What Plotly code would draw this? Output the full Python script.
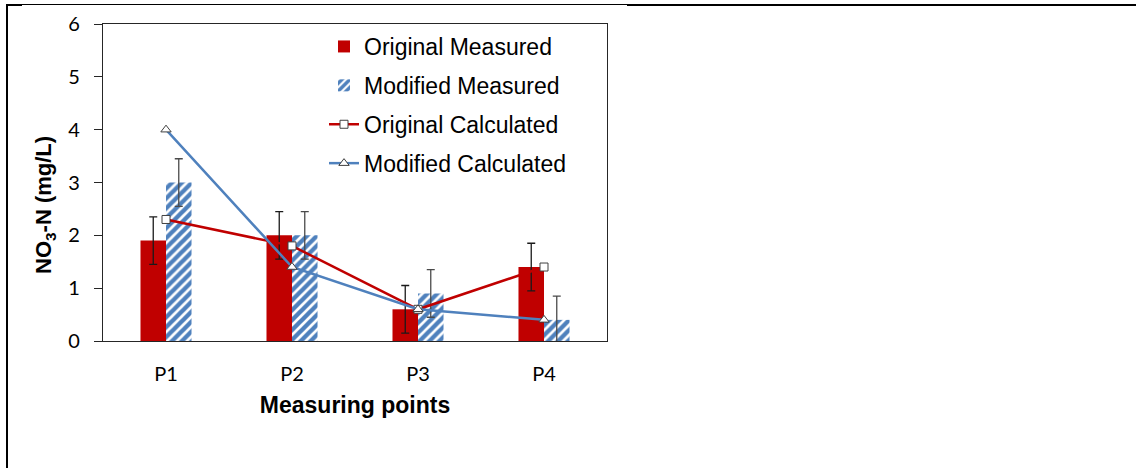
import plotly.graph_objects as go

# Measuring points and NO3-N concentrations (mg/L)
points = ["P1", "P2", "P3", "P4"]
orig_measured = [1.9, 2.0, 0.6, 1.4]
mod_measured = [3.0, 2.0, 0.9, 0.4]
orig_measured_err = [0.45, 0.45, 0.45, 0.45]
mod_measured_err = [0.45, 0.45, 0.45, 0.45]
orig_calculated = [2.3, 1.8, 0.6, 1.4]
mod_calculated = [4.0, 1.4, 0.6, 0.4]
y_ticks = [0, 1, 2, 3, 4, 5, 6]

RED = "#C00000"
BLUE = "#4F81BD"
W, H = 1136, 468
L, R, T, B = 103, 607, 24, 341  # plot area in pixels


def px_x(px):
    return (px - L) / (R - L)


def px_y(py):
    return (B - py) / (B - T)


fig = go.Figure()

fig.add_trace(go.Bar(
    x=points, y=orig_measured, name="Original Measured", legendgroup="a",
    marker=dict(color=RED, line=dict(width=0)),
    error_y=dict(type="data", array=orig_measured_err, color="#1a1a1a",
                 thickness=1.3, width=4),
))
fig.add_trace(go.Bar(
    x=points, y=mod_measured, name="Modified Measured", legendgroup="b",
    marker=dict(color="white", line=dict(width=0),
                pattern=dict(shape="/", fgcolor=BLUE, bgcolor="white",
                             fgopacity=1, size=7, solidity=0.62)),
    error_y=dict(type="data", array=mod_measured_err, color="#4a4a4a",
                 thickness=1.3, width=4),
))
fig.add_trace(go.Scatter(
    x=points, y=orig_calculated, name="Original Calculated", legendgroup="c",
    mode="lines+markers", line=dict(color=RED, width=2.5),
    marker=dict(symbol="square", size=8, color="white",
                line=dict(color="#404040", width=1)),
))
fig.add_trace(go.Scatter(
    x=points, y=mod_calculated, name="Modified Calculated", legendgroup="d",
    mode="lines+markers", line=dict(color=BLUE, width=2.5),
    marker=dict(symbol="triangle-up", size=9, color="white",
                line=dict(color="#404040", width=1)),
))

# outer frame lines
frame = [
    dict(x0=px_x(7), x1=px_x(7), y0=px_y(4), y1=px_y(470), w=2),
    dict(x0=px_x(6), x1=px_x(22), y0=px_y(5), y1=px_y(5), w=2),
    dict(x0=px_x(22), x1=px_x(627), y0=px_y(4.5), y1=px_y(4.5), w=1),
    dict(x0=px_x(627), x1=px_x(1140), y0=px_y(5), y1=px_y(5), w=2),
]
shapes = [dict(type="line", xref="paper", yref="paper",
               x0=f["x0"], x1=f["x1"], y0=f["y0"], y1=f["y1"],
               line=dict(color="black", width=f["w"])) for f in frame]

# y-axis title, placed as a rotated label
y_title = dict(
    text="<b>NO<sub>3</sub>-N (mg/L)</b>", textangle=-90,
    xref="paper", yref="paper", x=px_x(45), y=px_y(205),
    xanchor="center", yanchor="middle", showarrow=False,
    font=dict(family="Liberation Sans, Arial", size=22, color="black"),
)

fig.update_layout(
    width=W, height=H,
    margin=dict(l=L, r=W - R, t=T, b=H - B),
    paper_bgcolor="white", plot_bgcolor="white",
    barmode="group", bargap=0.595, bargroupgap=0,
    shapes=shapes,
    annotations=[y_title],
    legend=dict(
        x=px_x(324), y=px_y(25), xanchor="left", yanchor="top",
        bgcolor="rgba(0,0,0,0)", tracegroupgap=6,
        font=dict(family="Liberation Sans, Arial", size=23, color="black"),
    ),
    xaxis=dict(
        type="category", showgrid=False, ticks="",
        showline=True, linecolor="#262626", linewidth=1.3, mirror=True,
        tickfont=dict(family="Lato", size=20, color="black"),
        ticklabelstandoff=15,
        title=dict(text="<b>Measuring points</b>", standoff=12,
                   font=dict(family="Liberation Sans, Arial", size=23, color="black")),
    ),
    yaxis=dict(
        range=[0, 6], tickvals=y_ticks, showgrid=False, zeroline=False,
        ticks="outside", ticklen=8, tickcolor="#262626", tickwidth=1,
        showline=True, linecolor="#262626", linewidth=1.3, mirror=True,
        tickfont=dict(family="Lato", size=20, color="black"),
        ticklabelstandoff=10,
    ),
)

fig.write_html("out.html")
